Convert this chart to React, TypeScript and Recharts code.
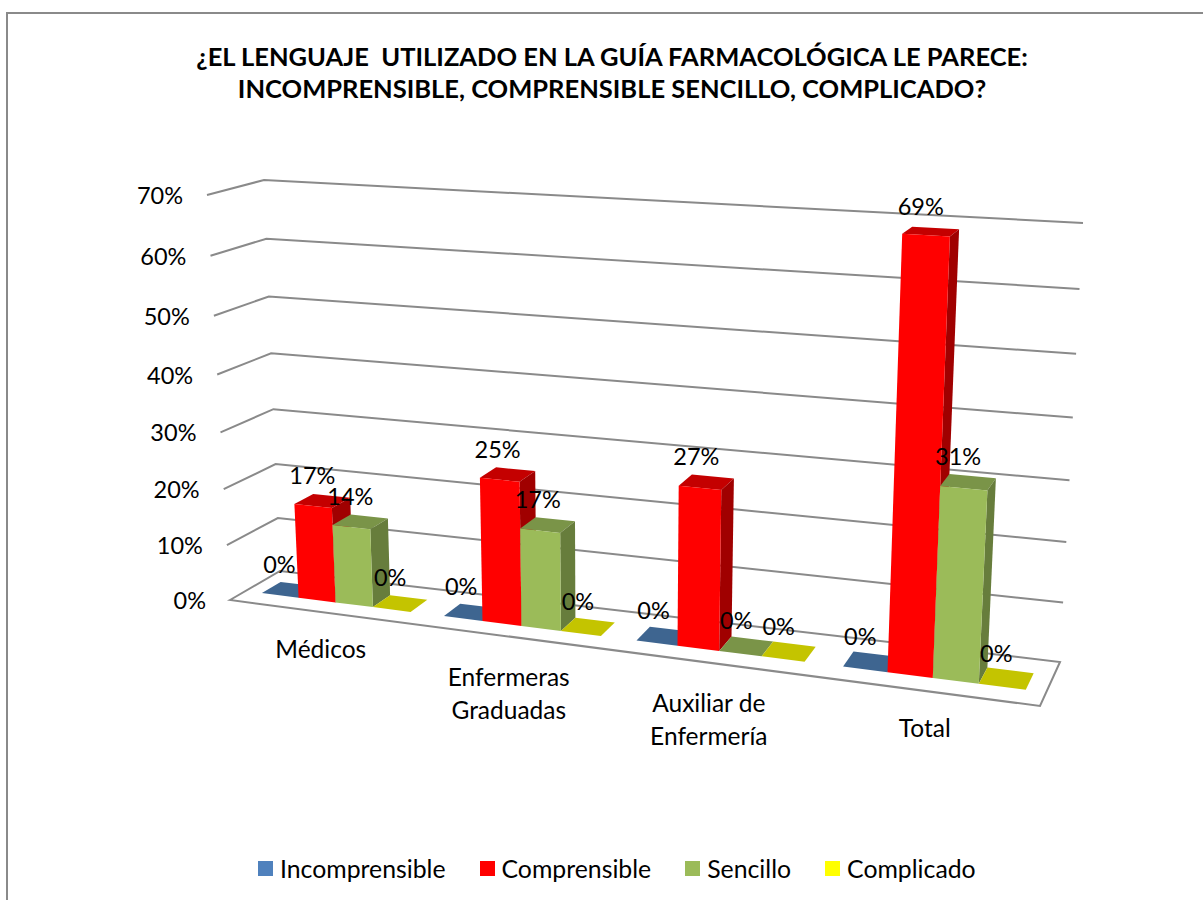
import React from "react";
import {
  Bar,
  BarChart,
  CartesianGrid,
  LabelList,
  Legend,
  XAxis,
  YAxis
} from "recharts";

const categories = ["Médicos", "Enfermeras\nGraduadas", "Auxiliar de\nEnfermería", "Total"];
const incomprensible = [0, 0, 0, 0];
const comprensible = [0.17, 0.25, 0.27, 0.69];
const sencillo = [0.14, 0.17, 0, 0.31];
const complicado = [0, 0, 0, 0];
const valueTicks = [0, 0.1, 0.2, 0.3, 0.4, 0.5, 0.6, 0.7];

const data = categories.map((name, i) => ({
  name,
  incomprensible: incomprensible[i],
  comprensible: comprensible[i],
  sencillo: sencillo[i],
  complicado: complicado[i]
}));

const font = "Lato, sans-serif";
const gridColor = "#8a8a8a";

// plot box handed to recharts, its coordinates get projected to the 3D look
const plot = { left: 200, top: 100, width: 800, height: 500 };

type Pt = [number, number];
const corners = {
  flb: [230, 600] as Pt,
  frb: [1040, 706] as Pt,
  blb: [280, 571] as Pt,
  brb: [1060, 662] as Pt,
  flt: [207, 195] as Pt,
  frt: [1064, 242] as Pt,
  blt: [264, 180] as Pt,
  brt: [1083, 223] as Pt
};

const mix = (a: Pt, b: Pt, t: number): Pt => [a[0] + (b[0] - a[0]) * t, a[1] + (b[1] - a[1]) * t];

// u, v in 0..1 across the plot, d is depth from front (0) to back wall (1)
function project(u: number, v: number, d: number): Pt {
  const w = u * (0.888 + 0.06 * u + 0.052 * u * u);
  const h = 0.94 * v + 0.06 * v * v;
  const front = mix(mix(corners.flb, corners.frb, w), mix(corners.flt, corners.frt, w), h);
  const back = mix(mix(corners.blb, corners.brb, w), mix(corners.blt, corners.brt, w), h);
  return mix(front, back, d);
}

const toU = (x: number) => (x - plot.left) / plot.width;
const toV = (y: number) => (plot.top + plot.height - y) / plot.height;
const pts = (list: Pt[]) => list.map(p => `${p[0].toFixed(1)},${p[1].toFixed(1)}`).join(" ");

const D0 = 0.31;
const D1 = 0.69;

function box(front: string, top: string, side: string) {
  return (props: any) => {
    const { x, y, width, height } = props;
    const u0 = toU(x);
    const u1 = toU(x + width);
    const vb = toV(y + height);
    const vt = toV(y);
    return (
      <g>
        <polygon
          points={pts([project(u0, vt, D0), project(u1, vt, D0), project(u1, vt, D1), project(u0, vt, D1)])}
          fill={top}
        />
        {height > 0 && (
          <polygon
            points={pts([project(u1, vb, D0), project(u1, vb, D1), project(u1, vt, D1), project(u1, vt, D0)])}
            fill={side}
          />
        )}
        {height > 0 && (
          <polygon
            points={pts([project(u0, vb, D0), project(u1, vb, D0), project(u1, vt, D0), project(u0, vt, D0)])}
            fill={front}
          />
        )}
      </g>
    );
  };
}

function gridLine(props: any) {
  const v = toV(props.y1);
  const stroke = { stroke: gridColor, strokeWidth: 2, fill: "none" };
  if (v < 0.001) {
    return (
      <polygon
        key={props.key}
        points={pts([project(0, 0, 0), project(0, 0, 1), project(1, 0, 1), project(1, 0, 0)])}
        {...stroke}
        fill="#fff"
      />
    );
  }
  return (
    <polyline
      key={props.key}
      points={pts([project(0, v, 0), project(0, v, 1), project(1, v, 1)])}
      {...stroke}
    />
  );
}

function ValueTick(props: any) {
  const v = toV(props.y);
  const p = project(0, v, 0);
  return (
    <text x={p[0] - 24} y={p[1]} textAnchor="end" dominantBaseline="central" fontSize={23.5} fontFamily={font} fill="#000">
      {Math.round(props.payload.value * 100)}%
    </text>
  );
}

function CategoryTick(props: any) {
  const p = project(toU(props.x), 0, 0);
  const lines = String(props.payload.value).split("\n");
  const first = lines.length > 1 ? 40 : 37;
  return (
    <text textAnchor="middle" fontSize={24.5} fontFamily={font} fill="#000">
      {lines.map((line, i) => (
        <tspan key={line} x={p[0]} y={p[1] + first + i * 33} dominantBaseline="central">
          {line}
        </tspan>
      ))}
    </text>
  );
}

function ValueLabel(props: any) {
  const vb = props.viewBox ?? props;
  const p = project(toU(vb.x + vb.width / 2), toV(vb.y), 0.5);
  return (
    <text x={p[0] - 10} y={p[1] - 26} textAnchor="middle" dominantBaseline="central" fontSize={23.5} fontFamily={font} fill="#000">
      {Math.round(Number(props.value) * 100)}%
    </text>
  );
}

function LegendRow(props: any) {
  return (
    <div style={{ display: "flex", alignItems: "center", fontFamily: font, fontSize: 24.8, color: "#000" }}>
      {(props.payload ?? []).map((item: any) => (
        <div key={item.value} style={{ display: "flex", alignItems: "center", marginRight: 34 }}>
          <span style={{ width: 15, height: 15, background: item.color, marginRight: 7 }} />
          {item.value}
        </div>
      ))}
    </div>
  );
}

export default function App() {
  return (
    <div style={{ position: "absolute", left: 0, top: 0, width: 1203, height: 900, overflow: "hidden", background: "#fff" }}>
      <div
        style={{
          position: "absolute",
          left: 6,
          top: 12,
          width: 1400,
          height: 1200,
          borderLeft: `2px solid ${gridColor}`,
          borderTop: `2px solid ${gridColor}`
        }}
      />
      <div
        style={{
          position: "absolute",
          left: 0,
          top: 41,
          width: 1224,
          textAlign: "center",
          fontFamily: font,
          fontWeight: 700,
          fontSize: 25.5,
          lineHeight: "31.5px",
          color: "#000",
          whiteSpace: "pre"
        }}
      >
        {"¿EL LENGUAJE  UTILIZADO EN LA GUÍA FARMACOLÓGICA LE PARECE:\nINCOMPRENSIBLE, COMPRENSIBLE SENCILLO, COMPLICADO?"}
      </div>
      <div style={{ position: "absolute", left: 0, top: 0 }}>
        <BarChart
          width={1203}
          height={900}
          data={data}
          barGap={0}
          barCategoryGap="9.2%"
          margin={{
            left: plot.left - 1,
            top: plot.top,
            right: 1203 - plot.left - plot.width,
            bottom: 900 - plot.top - plot.height - 1
          }}
        >
          <CartesianGrid horizontal={gridLine} vertical={false} />
          <XAxis dataKey="name" height={1} axisLine={false} tickLine={false} interval={0} tick={CategoryTick} />
          <YAxis
            width={1}
            domain={[0, 0.7]}
            ticks={valueTicks}
            axisLine={false}
            tickLine={false}
            interval={0}
            tick={ValueTick}
          />
          <Legend
            layout="horizontal"
            verticalAlign="middle"
            itemSorter={null}
            content={LegendRow}
            wrapperStyle={{ left: 258, top: 854, width: 800, height: 34, right: "auto", bottom: "auto" }}
          />
          <Bar dataKey="incomprensible" name="Incomprensible" fill="#4f81bd" isAnimationActive={false} shape={box("#4f81bd", "#3e6590", "#2f4c6e")}>
            <LabelList dataKey="incomprensible" content={ValueLabel} />
          </Bar>
          <Bar dataKey="comprensible" name="Comprensible" fill="#ff0000" isAnimationActive={false} shape={box("#ff0000", "#c40000", "#a00000")}>
            <LabelList dataKey="comprensible" content={ValueLabel} />
          </Bar>
          <Bar dataKey="sencillo" name="Sencillo" fill="#9bbb59" isAnimationActive={false} shape={box("#9bbb59", "#7a9448", "#677d3c")}>
            <LabelList dataKey="sencillo" content={ValueLabel} />
          </Bar>
          <Bar dataKey="complicado" name="Complicado" fill="#ffff00" isAnimationActive={false} shape={box("#ffff00", "#c4c400", "#a0a000")}>
            <LabelList dataKey="complicado" content={ValueLabel} />
          </Bar>
        </BarChart>
      </div>
    </div>
  );
}
